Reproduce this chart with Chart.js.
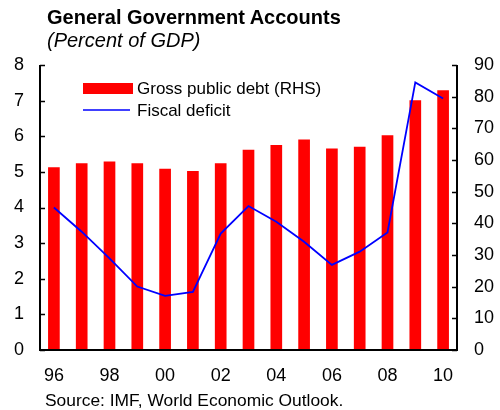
<!DOCTYPE html>
<html>
<head>
<meta charset="utf-8">
<script src="https://cdn.jsdelivr.net/npm/chart.js@4"></script>
<style>
  body { margin: 0; background: #fff; font-family: "Liberation Sans", Arial, sans-serif; }
  #wrap { position: relative; width: 500px; height: 410px; }
  canvas { display: block; }
  #title { position: absolute; left: 47px; top: 5px; font-size: 20px; font-weight: bold; color: #000; line-height: 24px; }
  #subtitle { position: absolute; left: 47px; top: 29px; font-size: 20px; font-style: italic; color: #000; line-height: 22px; }
  #source { position: absolute; left: 45px; top: 390px; font-size: 17.4px; color: #000; line-height: 20px; }
</style>
</head>
<body>
<div id="wrap">
  <canvas id="chart" width="500" height="410"></canvas>
  <div id="title">General Government Accounts</div>
  <div id="subtitle">(Percent of GDP)</div>
  <div id="source">Source: IMF, World Economic Outlook.</div>
</div>
<script>
// ===== Data =====
const years = ['96', '97', '98', '99', '00', '01', '02', '03', '04', '05', '06', '07', '08', '09', '10'];
const grossDebt = [57.7, 59.0, 59.5, 59.0, 57.2, 56.5, 59.0, 63.2, 64.7, 66.5, 63.6, 64.2, 67.8, 78.9, 82.0];
const fiscalDeficit = [4.0, 3.32, 2.57, 1.78, 1.52, 1.63, 3.27, 4.04, 3.6, 3.04, 2.39, 2.76, 3.3, 7.51, 7.06];
const leftTicks = [0, 1, 2, 3, 4, 5, 6, 7, 8];
const rightTicks = [0, 10, 20, 30, 40, 50, 60, 70, 80, 90];

const FONT = "'Liberation Sans', Arial, sans-serif";

// inward tick marks + axis lines
const axisMarks = {
    id: 'axisMarks',
    afterDraw(chart) {
        const { ctx, chartArea: a, scales } = chart;
        ctx.save();
        ctx.strokeStyle = '#000';
        ctx.lineWidth = 2;
        ctx.beginPath();
        ctx.moveTo(a.left, a.top); ctx.lineTo(a.left, a.bottom);
        ctx.lineTo(a.right, a.bottom); ctx.lineTo(a.right, a.top);
        ctx.stroke();
        ctx.lineWidth = 1.5;
        ctx.beginPath();
        leftTicks.forEach(v => {
            const y = Math.round(scales.y.getPixelForValue(v)) + 0.5;
            ctx.moveTo(a.left, y); ctx.lineTo(a.left + 5, y);
        });
        rightTicks.forEach(v => {
            const y = Math.round(scales.y2.getPixelForValue(v)) + 0.5;
            ctx.moveTo(a.right, y); ctx.lineTo(a.right - 5, y);
        });
        ctx.stroke();
        ctx.restore();
    }
};

// legend drawn inside plot area
const innerLegend = {
    id: 'innerLegend',
    afterDraw(chart) {
        const { ctx } = chart;
        const line = chart.data.datasets[0];
        const bar = chart.data.datasets[1];
        ctx.save();
        ctx.font = '17px ' + FONT;
        ctx.textBaseline = 'middle';
        ctx.fillStyle = bar.backgroundColor;
        ctx.fillRect(83, 83, 50, 11);
        ctx.strokeStyle = line.borderColor;
        ctx.lineWidth = 1.5;
        ctx.beginPath();
        ctx.moveTo(83, 110); ctx.lineTo(130, 110);
        ctx.stroke();
        ctx.fillStyle = '#000';
        ctx.fillText(bar.label, 137, 89);
        ctx.fillText(line.label, 137, 111);
        ctx.restore();
    }
};

new Chart(document.getElementById('chart').getContext('2d'), {
    type: 'bar',
    data: {
        labels: years,
        datasets: [
            {
                type: 'line',
                label: 'Fiscal deficit',
                data: fiscalDeficit,
                yAxisID: 'y',
                borderColor: '#0000ff',
                borderWidth: 1.8,
                pointRadius: 0,
                tension: 0,
                fill: false,
                order: 0,
            },
            {
                type: 'bar',
                label: 'Gross public debt (RHS)',
                data: grossDebt,
                yAxisID: 'y2',
                backgroundColor: '#ff0000',
                categoryPercentage: 1,
                barPercentage: 0.42,
                order: 1,
            }
        ]
    },
    options: {
        responsive: false,
        animation: false,
        layout: { padding: { top: 65, bottom: 0, left: 0, right: 0 } },
        plugins: { legend: { display: false }, tooltip: { enabled: false } },
        scales: {
            x: {
                grid: { display: false, drawTicks: false },
                border: { display: false },
                ticks: {
                    autoSkip: false,
                    maxRotation: 0,
                    color: '#000',
                    padding: 15,
                    font: { size: 18, family: FONT },
                    callback: (v, i) => (i % 2 === 0 ? years[i] : '')
                },
                afterFit: s => { s.height = 60; }
            },
            y: {
                position: 'left',
                min: 0, max: 8,
                grid: { display: false, drawTicks: false },
                border: { display: false },
                ticks: { stepSize: 1, color: '#000', padding: 16, font: { size: 18, family: FONT } },
                afterFit: s => { s.width = 40; }
            },
            y2: {
                position: 'right',
                min: 0, max: 90,
                grid: { display: false, drawTicks: false },
                border: { display: false },
                ticks: { stepSize: 10, color: '#000', padding: 17, font: { size: 18, family: FONT } },
                afterFit: s => { s.width = 43; }
            }
        }
    },
    plugins: [axisMarks, innerLegend]
});
</script>
</body>
</html>
